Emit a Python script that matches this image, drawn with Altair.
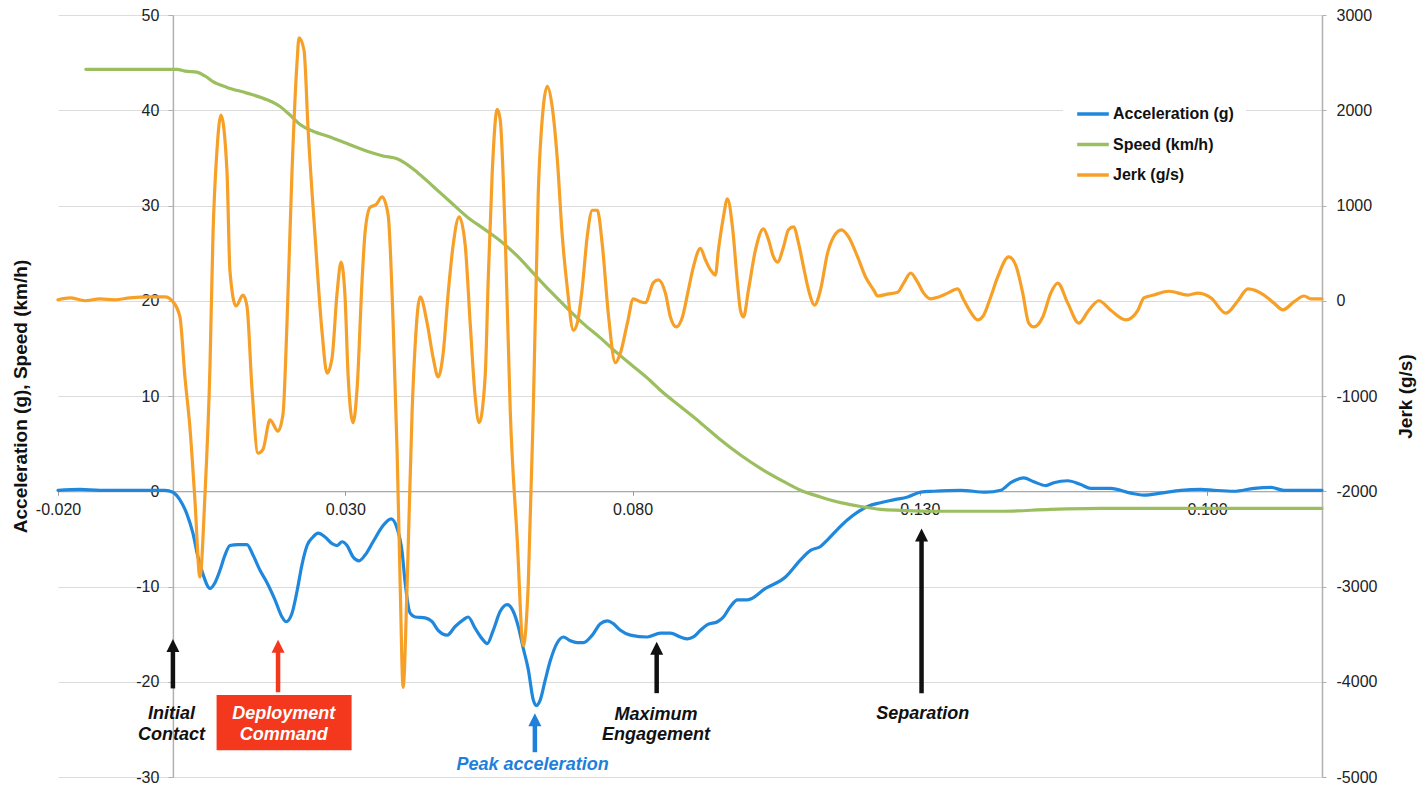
import altair as alt
import pandas as pd

# ---------------- data (time in ms) ----------------
accel_t_ms = [-20.0, -16.2, -12.7, -7.5, -1.4, 0.0, 1.22, 2.44, 3.48, 4.36, 5.23, 6.45, 7.32, 8.19, 9.06,
              9.93, 11.32, 12.89, 13.94, 15.16, 16.38, 17.77, 18.99, 19.69, 20.73, 21.60, 22.47, 23.35,
              24.39, 25.26, 26.48, 27.70, 28.57, 29.44, 30.31, 31.36, 32.40, 33.45, 34.84, 36.59, 37.98,
              39.03, 39.90, 40.42, 41.29, 42.16, 43.90, 45.12, 46.17, 47.74, 49.13, 50.52, 51.39, 52.61,
              53.83, 54.71, 55.75, 56.97, 58.19, 59.23, 60.11, 60.98, 61.85, 62.72, 63.24, 63.94, 64.81,
              65.68, 66.90, 67.95, 69.17, 70.38, 71.43, 73.00, 74.39, 75.61, 76.66, 77.88, 79.62, 82.58,
              84.85, 86.59, 88.33, 89.55, 90.59, 91.81, 93.03, 94.78, 95.82, 97.04, 98.26, 100.00, 103.14,
              106.62, 109.24, 110.98, 112.72, 113.94, 115.68, 117.42, 119.17, 120.91, 123.17, 125.44,
              127.88, 130.14, 132.41, 137.11, 141.47, 144.08, 145.82, 148.09, 149.83, 151.92, 153.31,
              155.75, 158.01, 159.76, 163.24, 166.73, 169.00, 171.96, 175.44, 178.92, 181.19, 184.67,
              188.16, 191.12, 193.38, 200.0]
accel_g = [0.1, 0.2, 0.1, 0.1, 0.1, -0.1, -0.9, -2.4, -4.4, -6.9, -8.7, -10.2, -9.6, -8.3, -6.7,
           -5.7, -5.6, -5.6, -6.7, -8.3, -9.6, -11.4, -13.2, -13.7, -12.8, -10.5, -7.7, -5.7,
           -4.8, -4.4, -4.8, -5.5, -5.7, -5.3, -5.7, -6.9, -7.3, -6.7, -5.3, -3.6, -2.9,
           -3.9, -6.4, -9.6, -12.8, -13.2, -13.3, -13.7, -14.6, -15.1, -14.2, -13.5, -13.2, -14.4,
           -15.5, -16.0, -14.6, -12.6, -11.9, -12.6, -14.2, -16.5, -18.7, -21.9, -22.5, -21.9, -19.8,
           -17.8, -15.9, -15.3, -15.7, -15.9, -15.9, -15.1, -13.9, -13.6, -13.9, -14.6, -15.1, -15.3,
           -14.9, -14.9, -15.3, -15.5, -15.3, -14.6, -14.0, -13.7, -13.2, -12.1, -11.4, -11.4, -10.2,
           -9.0, -7.2, -6.2, -5.8, -5.1, -4.0, -3.0, -2.2, -1.6, -1.2, -0.9,
           -0.6, -0.1, 0.0, 0.1, -0.1, 0.1, 0.9, 1.4, 1.0, 0.6, 0.9,
           1.1, 0.7, 0.3, 0.3, -0.2, -0.4, -0.2, 0.1, 0.2, 0.1, 0.0,
           0.3, 0.4, 0.1, 0.1]

speed_t_ms = [-15.16, 0.70, 2.09, 4.18, 5.57, 6.97, 9.41, 12.89, 16.38, 18.64, 20.38, 22.13, 24.39, 27.35,
              30.31, 33.80, 36.59, 39.03, 42.51, 45.30, 48.26, 51.22, 54.01, 56.97, 59.93, 62.72, 65.68,
              68.64, 71.43, 74.39, 77.35, 80.14, 83.10, 84.85, 88.33, 91.81, 95.30, 98.78, 102.27,
              105.75, 109.24, 112.72, 116.21, 119.69, 123.17, 126.66, 131.89, 144.08, 152.79, 161.50,
              178.92, 200.0]
speed_kmh = [44.3, 44.3, 44.1, 44.0, 43.6, 43.0, 42.4, 41.8, 41.1, 40.4, 39.5, 38.5, 37.8, 37.2,
             36.5, 35.7, 35.2, 34.9, 33.5, 32.0, 30.4, 28.8, 27.6, 26.3, 24.7, 22.9, 21.0,
             19.2, 17.6, 16.1, 14.5, 13.1, 11.6, 10.6, 8.9, 7.2, 5.4, 3.8, 2.4,
             1.2, 0.1, -0.6, -1.2, -1.6, -1.9, -2.0, -2.1, -2.1, -1.9, -1.8,
             -1.8, -1.8]

jerk_t_ms = [-20.0, -17.9, -15.3, -12.7, -10.1, -7.5, -4.0, -1.4, 0.0, 1.22, 2.09, 2.96, 3.83, 4.70,
             5.57, 6.45, 6.97, 7.67, 8.36, 9.41, 9.93, 10.98, 12.20, 12.89, 13.76, 14.81, 15.68,
             16.90, 18.29, 19.16, 19.86, 20.73, 21.60, 21.95, 22.82, 23.52, 24.74, 25.96, 26.83,
             27.70, 28.57, 29.27, 29.96, 30.49, 31.36, 32.06, 32.93, 33.45, 34.32, 35.37, 36.41,
             37.46, 38.33, 39.03, 39.55, 40.07, 40.77, 41.64, 42.16, 43.03, 44.25, 45.30, 46.17,
             47.04, 47.91, 48.78, 49.83, 50.87, 51.74, 52.61, 53.31, 54.36, 54.88, 55.58, 56.45,
             56.97, 57.84, 58.71, 59.93, 60.98, 61.85, 62.72, 63.59, 64.46, 65.16, 66.03, 66.90,
             67.77, 68.64, 69.69, 70.38, 71.25, 72.12, 73.00, 73.87, 74.74, 75.79, 77.01, 77.88,
             79.10, 80.14, 81.36, 82.23, 83.63, 84.50, 85.72, 86.59, 87.63, 88.68, 89.72, 90.59,
             91.81, 92.68, 93.55, 94.42, 94.95, 95.82, 96.52, 97.39, 98.26, 98.78, 99.31, 100.18,
             101.40, 102.79, 103.66, 104.53, 105.23, 106.27, 107.14, 108.02, 108.89, 109.76,
             110.63, 111.68, 112.72, 113.94, 114.99, 116.38, 117.60, 119.17, 120.56, 121.95,
             122.65, 124.39, 126.14, 127.18, 128.40, 129.62, 130.67, 131.89, 133.28, 134.85,
             136.59, 137.63, 138.85, 140.07, 141.12, 142.34, 143.56, 145.47, 146.69, 147.91,
             148.96, 149.83, 151.40, 152.79, 154.01, 155.75, 157.67, 159.41, 161.15, 163.24,
             165.86, 167.95, 169.00, 170.74, 173.35, 176.66, 178.40, 180.67, 183.28, 185.37,
             187.11, 189.90, 191.64, 193.21, 195.13, 196.87, 198.09, 200.0]
jerk_gps = [10, 30, 0, 20, 10, 30, 40, 40, -10, -170, -800, -1330, -2090, -2900,
            -2050, -690, 680, 1580, 1950, 1360, 310, -55, 60, -55, -920, -1600, -1560,
            -1250, -1370, -1190, -230, 1360, 2500, 2760, 2630, 1810, 680, -330, -760,
            -600, 80, 405, 40, -780, -1280, -920, 220, 720, 980, 1010, 1090,
            900, -235, -1600, -2970, -4060, -2970, -1150, -470, 40, -235, -600, -800,
            -550, 80, 585, 880, 585, -235, -1010, -1280, -780, 220, 1350, 2010,
            1900, 680, -1150, -2510, -3620, -2970, -1150, 1130, 2030, 2250, 2030, 1490,
            680, 135, -310, -235, 135, 680, 950, 950, 585, -140, -650, -550,
            -235, 20, -10, -20, 190, 220, 80, -170, -275, -170, 115, 355,
            550, 430, 325, 270, 535, 880, 1070, 775, 185, -100, -170, 115,
            535, 755, 640, 460, 405, 565, 745, 775, 605, 355,
            115, -45, 115, 500, 670, 745, 670, 460, 250, 115,
            50, 70, 90, 185, 290, 195, 80, 20, 40, 80,
            125, 10, -120, -200, -150, 40, 250, 460, 375, 80,
            -235, -275, -170, 80, 185, -25, -235, -100, 0, -100,
            -200, -100, 30, 60, 100, 60, 80, 30, -130, 0,
            125, 60, -25, -95, -10, 50, 20, 20]

series_names = ["Acceleration (g)", "Speed (km/h)", "Jerk (g/s)"]
series_colors = ["#1f88dd", "#9bbf5f", "#f7a028"]

x_ticks = [-0.02, 0.03, 0.08, 0.13, 0.18]
left_ticks = [-30, -20, -10, 0, 10, 20, 30, 40, 50]
right_ticks = [-5000, -4000, -3000, -2000, -1000, 0, 1000, 2000, 3000]

# annotations (time in ms, y in left-axis units)
arrow_t_ms = [0.0, 18.3, 63.0, 84.2, 130.3]
arrow_tail = [-20.7, -21.1, -27.4, -21.2, -21.2]
arrow_tip = [-15.5, -15.6, -23.3, -15.8, -3.9]
arrow_color = ["#111111", "#f4381e", "#1e80dc", "#111111", "#111111"]

label_text = ["Initial", "Contact", "Deployment", "Command", "Peak acceleration",
              "Maximum", "Engagement", "Separation"]
label_t_ms = [-0.26, -0.26, 19.3, 19.3, 62.6, 84.1, 84.1, 130.5]
label_y = [-23.4, -25.6, -23.4, -25.6, -28.7, -23.5, -25.6, -23.4]
label_color = ["#111111", "#111111", "#ffffff", "#ffffff", "#1e80dc", "#111111", "#111111", "#111111"]

box_t_ms = [7.6, 31.1]
box_y = [-21.4, -27.2]
box_color = "#f4381e"

# ---------------- frames ----------------
acc_df = pd.DataFrame({"t": [v / 1000 for v in accel_t_ms], "val": accel_g, "series": series_names[0]})
spd_df = pd.DataFrame({"t": [v / 1000 for v in speed_t_ms], "val": speed_kmh, "series": series_names[1]})
left_df = pd.concat([acc_df, spd_df], ignore_index=True)
jerk_df = pd.DataFrame({"t": [v / 1000 for v in jerk_t_ms], "val": jerk_gps, "series": series_names[2]})

arrow_df = pd.DataFrame({"t": [v / 1000 for v in arrow_t_ms], "tail": arrow_tail,
                         "tip": arrow_tip, "col": arrow_color})
arrow_df["neck"] = arrow_df["tip"] - 1.0
label_df = pd.DataFrame({"t": [v / 1000 for v in label_t_ms], "y": label_y,
                         "text": label_text, "col": label_color})
box_df = pd.DataFrame({"t": [box_t_ms[0] / 1000], "t2": [box_t_ms[1] / 1000],
                       "y": [box_y[0]], "y2": [box_y[1]]})

FONT = "Liberation Sans"
W, H = 1264, 762
x_dom = [-0.02, 0.2]
yl_dom = [-30, 50]
yr_dom = [-5000, 3000]

x_offset = -W * (0 - x_dom[0]) / (x_dom[1] - x_dom[0])
xaxis_offset = -H * (0 - yl_dom[0]) / (yl_dom[1] - yl_dom[0])

minus_fix = "replace(datum.label, '\u2212', '-')"

x_axis = alt.Axis(orient="bottom", offset=xaxis_offset, values=x_ticks, format=".3f",
                  labelExpr=minus_fix, grid=False, domainColor="#9a9a9a", domainWidth=1.2,
                  tickColor="#9a9a9a", tickSize=4, labelPadding=6, labelFontSize=16,
                  labelColor="#222222", labelFont=FONT, labelOverlap=False, labelFlush=False,
                  labelBound=False, title=None)
x_scale = alt.Scale(domain=x_dom, nice=False, zero=False)


def X(field="t"):
    return alt.X(f"{field}:Q", scale=x_scale, axis=x_axis)


left_axis = alt.Axis(orient="left", offset=x_offset, values=left_ticks, grid=False, format="d",
                     domainColor="#b0b0b0", domainWidth=1.5, tickColor="#b0b0b0", tickSize=5,
                     labelPadding=9, labelFontSize=16, labelColor="#222222", labelFont=FONT,
                     labelExpr=minus_fix, labelOverlap=False,
                     title="Acceleration (g), Speed (km/h)", titleFontSize=19, titleFont=FONT,
                     titleFontWeight="bold", titleColor="#111111", titleAngle=270,
                     titleX=-(58 - 20) + x_offset, titleY=H / 2, titleBaseline="middle",
                     titleAlign="center")
yl_scale = alt.Scale(domain=yl_dom, nice=False, zero=False)


def YL(field):
    return alt.Y(f"{field}:Q", scale=yl_scale, axis=left_axis)


right_axis = alt.Axis(orient="right", values=right_ticks, grid=True, gridColor="#dcdcdc", format="d",
                      gridWidth=1, domainColor="#b0b0b0", domainWidth=1.5, tickColor="#b0b0b0",
                      tickSize=4, labelPadding=10, labelFontSize=16, labelColor="#222222",
                      labelFont=FONT, labelExpr=minus_fix, labelOverlap=False,
                      title="Jerk (g/s)", titleFontSize=19, titleFont=FONT, titleFontWeight="bold",
                      titleColor="#111111", titleAngle=270, titleX=83, titleY=H / 2,
                      titleBaseline="middle", titleAlign="center")
yr_scale = alt.Scale(domain=yr_dom, nice=False, zero=False)

color_enc = alt.Color("series:N",
                      scale=alt.Scale(domain=series_names, range=series_colors),
                      legend=alt.Legend(orient="none", legendX=1005, legendY=69, title=None,
                                        symbolType="stroke", symbolStrokeWidth=3.5,
                                        symbolSize=1000, labelFontSize=16, labelFont=FONT,
                                        labelFontWeight="bold", labelColor="#111111",
                                        fillColor="white", padding=12, labelOffset=2,
                                        rowPadding=4.5))

left_lines = alt.Chart(left_df).mark_line(strokeWidth=3.2, interpolate="monotone",
                                          strokeJoin="round", strokeCap="round").encode(
    x=X(), y=YL("val"), color=color_enc, detail="series:N", order="t:Q")

box = alt.Chart(box_df).mark_rect(color=box_color).encode(
    x=X(), x2="t2:Q", y=YL("y"), y2="y2:Q")

shafts = alt.Chart(arrow_df).mark_rule(strokeWidth=4.5).encode(
    x=X(), y=YL("tail"), y2="neck:Q", stroke=alt.Stroke("col:N", scale=None))

heads = alt.Chart(arrow_df).mark_point(shape="M-1,2L1,2L0,0Z", filled=True, size=169,
                                       opacity=1, strokeWidth=0).encode(
    x=X(), y=YL("tip"), fill=alt.Fill("col:N", scale=None))

labels = alt.Chart(label_df).mark_text(font=FONT, fontSize=18, fontWeight="bold",
                                       fontStyle="italic", baseline="middle",
                                       align="center").encode(
    x=X(), y=YL("y"), text="text:N", fill=alt.Fill("col:N", scale=None))

left_layer = alt.layer(left_lines, box, shafts, heads, labels)

jerk_line = alt.Chart(jerk_df).mark_line(strokeWidth=3.2, interpolate="monotone",
                                         strokeJoin="round", strokeCap="round").encode(
    x=X(), y=alt.Y("val:Q", scale=yr_scale, axis=right_axis), color=color_enc, order="t:Q")

chart = alt.layer(left_layer, jerk_line).resolve_scale(y="independent").properties(
    width=W, height=H,
    padding={"left": 50, "top": 7, "right": 96, "bottom": 8},
    autosize=alt.AutoSizeParams(type="none"),
    background="white",
).configure_view(stroke=None).configure_axis(labelFont=FONT, titleFont=FONT)

chart.save("out.html", embed_options={"renderer": "svg", "actions": False})
